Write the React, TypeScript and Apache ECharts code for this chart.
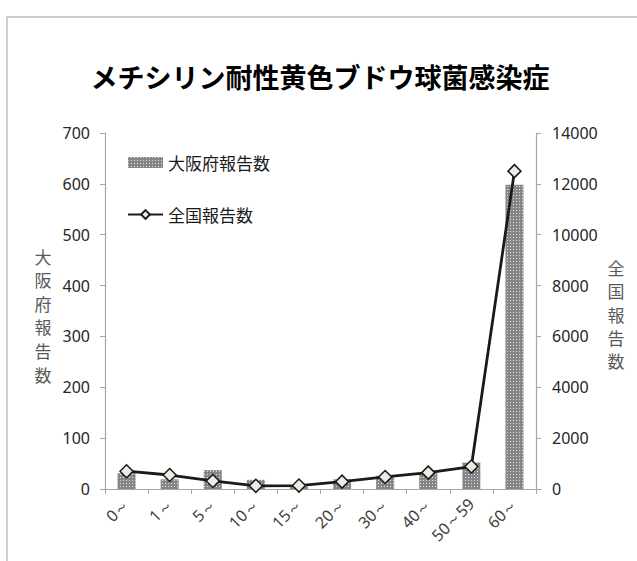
import React, { useEffect, useRef } from "react";
import * as echarts from "echarts";

const categories = ["0～", "1～", "5～", "10～", "15～", "20～", "30～", "40～", "50～59", "60～"];
const osakaCounts = [31, 19, 37, 18, 5, 19, 26, 32, 52, 598];
const nationalCounts = [700, 550, 316, 125, 135, 289, 474, 645, 882, 12500];
const leftTicks = { min: 0, max: 700, interval: 100 };
const rightTicks = { min: 0, max: 14000, interval: 2000 };

const numFont = "'Noto Sans', 'DejaVu Sans', sans-serif";
const cjkFont = "'Noto Sans CJK JP', 'Noto Sans', sans-serif";

export default function App() {
  const ref = useRef<HTMLDivElement>(null);
  useEffect(() => {
    if (!ref.current) return;
    const chart = echarts.init(ref.current, undefined, { renderer: "svg" });
    chart.setOption({
      animation: false,
      backgroundColor: "#ffffff",
      grid: { left: 105, right: 101, top: 133, bottom: 72, containLabel: false },
      graphic: [
        {
          type: "polyline",
          shape: { points: [[7, 700], [7, 17], [700, 17]] },
          style: { stroke: "#bfbfbf", lineWidth: 1.5, fill: "none" },
          silent: true,
        },
        {
          type: "text",
          x: 320,
          y: 76,
          style: {
            text: "メチシリン耐性黄色ブドウ球菌感染症",
            fontFamily: cjkFont,
            fontWeight: "bold",
            fontSize: 27,
            fill: "#000000",
            align: "center",
            verticalAlign: "middle",
          },
        },
        {
          type: "text",
          x: 43,
          y: 315,
          style: {
            text: "大\n阪\n府\n報\n告\n数",
            fontFamily: cjkFont,
            fontSize: 17,
            lineHeight: 23.6,
            fill: "#595959",
            align: "center",
            verticalAlign: "middle",
          },
        },
        {
          type: "text",
          x: 616,
          y: 314,
          style: {
            text: "全\n国\n報\n告\n数",
            fontFamily: cjkFont,
            fontSize: 17,
            lineHeight: 23.2,
            fill: "#595959",
            align: "center",
            verticalAlign: "middle",
          },
        },
      ],
      legend: {
        orient: "vertical",
        left: 122,
        top: 149,
        itemWidth: 35,
        itemHeight: 11,
        itemGap: 35,
        textStyle: { fontFamily: cjkFont, fontSize: 17, lineHeight: 17, color: "#1a1a1a" },
        data: [
          { name: "大阪府報告数", icon: "rect" },
          { name: "全国報告数" },
        ],
      },
      xAxis: {
        type: "category",
        data: categories,
        boundaryGap: true,
        axisLine: { lineStyle: { color: "#a6a6a6", width: 1.2 } },
        axisTick: { show: true, length: 5, lineStyle: { color: "#a6a6a6" } },
        axisLabel: {
          rotate: 45,
          interval: 0,
          margin: 12,
          fontFamily: numFont,
          fontSize: 16,
          color: "#404040",
        },
      },
      yAxis: [
        {
          type: "value",
          position: "left",
          min: leftTicks.min,
          max: leftTicks.max,
          interval: leftTicks.interval,
          splitLine: { show: false },
          axisLine: { show: true, lineStyle: { color: "#a6a6a6", width: 1.2 } },
          axisTick: { show: true, length: 5, lineStyle: { color: "#a6a6a6" } },
          axisLabel: {
            margin: 15,
            fontFamily: numFont,
            fontSize: 16,
            color: "#262626",
            formatter: (v: number) => String(v),
          },
        },
        {
          type: "value",
          position: "right",
          min: rightTicks.min,
          max: rightTicks.max,
          interval: rightTicks.interval,
          splitLine: { show: false },
          axisLine: { show: true, lineStyle: { color: "#a6a6a6", width: 1.2 } },
          axisTick: { show: true, length: 5, lineStyle: { color: "#a6a6a6" } },
          axisLabel: {
            margin: 16,
            fontFamily: numFont,
            fontSize: 16,
            color: "#262626",
            formatter: (v: number) => String(v),
          },
        },
      ],
      series: [
        {
          name: "大阪府報告数",
          type: "bar",
          yAxisIndex: 0,
          data: osakaCounts,
          barWidth: 18,
          itemStyle: {
            color: "#868686",
            decal: {
              symbol: "rect",
              symbolSize: 1,
              color: "rgba(255,255,255,0.75)",
              dashArrayX: [1, 2],
              dashArrayY: [1, 2],
              rotation: 0,
            },
          },
        },
        {
          name: "全国報告数",
          type: "line",
          yAxisIndex: 1,
          data: nationalCounts,
          symbol: "diamond",
          symbolSize: 13,
          showAllSymbol: true,
          lineStyle: { color: "#1a1a1a", width: 2.8 },
          itemStyle: { color: "#eeece1", borderColor: "#1a1a1a", borderWidth: 1.5 },
          z: 3,
        },
      ],
    });
    return () => chart.dispose();
  }, []);
  return (
    <div
      ref={ref}
      style={{ position: "fixed", left: 0, top: 0, width: 637, height: 561 }}
    />
  );
}
